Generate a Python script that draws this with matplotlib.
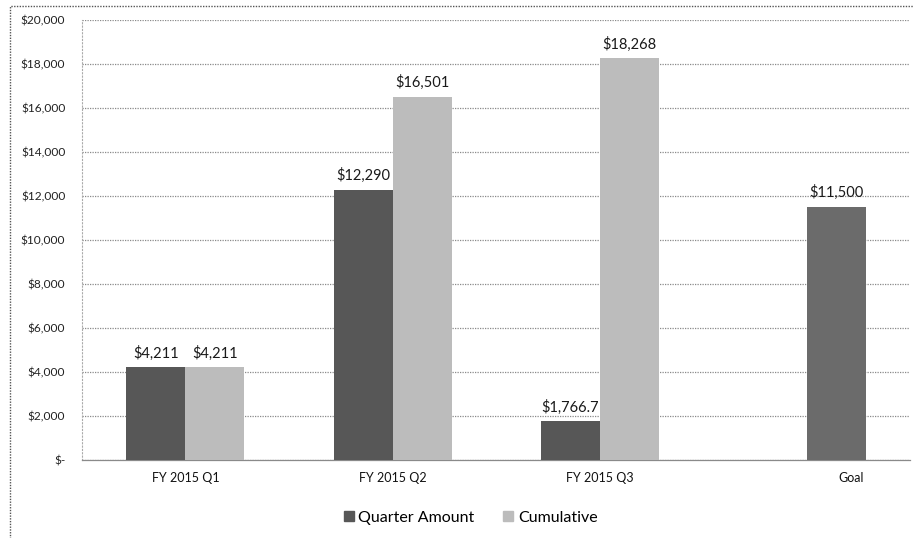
import matplotlib
matplotlib.use("Agg")
import matplotlib.pyplot as plt
from matplotlib.patches import Rectangle
import matplotlib.transforms as mtransforms
import numpy as np

categories = ["FY 2015 Q1", "FY 2015 Q2", "FY 2015 Q3", "Goal"]
quarter_amount = [4211, 12290, 1766.7, np.nan]
cumulative = [4211, 16501, 18268, 11500]
quarter_labels = ["$4,211", "$12,290", "$1,766.7", ""]
cumulative_labels = ["$4,211", "$16,501", "$18,268", "$11,500"]
yticks = [0, 2000, 4000, 6000, 8000, 10000, 12000, 14000, 16000, 18000, 20000]
ytick_labels = ["$-", "$2,000", "$4,000", "$6,000", "$8,000", "$10,000", "$12,000",
                "$14,000", "$16,000", "$18,000", "$20,000"]

plt.rcParams['font.family'] = ['Lato', 'DejaVu Sans']

fig = plt.figure(figsize=(9.14, 5.38), dpi=100)
ax = fig.add_axes([0.0897, 0.145, 0.906, 0.818])

dark = "#575757"
light = "#bcbcbc"
goal_col = "#6b6b6b"

x = np.arange(len(categories))
w = 0.285
b1 = ax.bar(x - w / 2, quarter_amount, w, color=dark, label="Quarter Amount", zorder=3)
colors2 = [light, light, light, goal_col]
b2 = ax.bar(x + w / 2, cumulative, w, color=colors2, label="Cumulative", zorder=3)

for rect, lab in zip(b1, quarter_labels):
    h = rect.get_height()
    if lab and not np.isnan(h):
        ax.text(rect.get_x() + rect.get_width() / 2, h + 300, lab, ha="center", va="bottom",
                fontsize=10.5, color="#1a1a1a", zorder=4)
for rect, lab in zip(b2, cumulative_labels):
    h = rect.get_height()
    ax.text(rect.get_x() + rect.get_width() / 2, h + 300, lab, ha="center", va="bottom",
            fontsize=10.5, color="#1a1a1a", zorder=4)

ax.set_xlim(-0.5, len(categories) - 0.5)
ax.set_ylim(0, 20000)
ax.set_yticks(yticks)
ax.set_yticklabels(ytick_labels, fontsize=8.6, color="#222222")
ax.set_xticks(x)
ax.set_xticklabels(categories, fontsize=9, color="#111111")
ax.tick_params(axis="both", length=0)
ax.tick_params(axis="y", pad=12)
ax.tick_params(axis="x", pad=9)

# the "Goal" label sits right of its category centre in the reference
goal_lbl = ax.get_xticklabels()[-1]
goal_lbl.set_transform(goal_lbl.get_transform() +
                       mtransforms.ScaledTranslation(0.45, 0, fig.dpi_scale_trans))

ax.yaxis.grid(True, color="#8a8a8a", linestyle=(0, (1, 1)), linewidth=0.9, zorder=0)
for s in ["top", "right"]:
    ax.spines[s].set_visible(False)
ax.spines["left"].set_color("#aaaaaa")
ax.spines["left"].set_linestyle((0, (1, 2)))
ax.spines["left"].set_linewidth(0.8)
ax.spines["bottom"].set_color("#8a8a8a")
ax.spines["bottom"].set_linestyle((0, (1, 1)))
ax.spines["bottom"].set_linewidth(0.9)

handles = [Rectangle((0, 0), 1, 1, color=dark), Rectangle((0, 0), 1, 1, color=light)]
fig.legend(handles, ["Quarter Amount", "Cumulative"], loc="center", bbox_to_anchor=(0.515, 0.038),
           ncol=2, frameon=False, fontsize=11.5, handlelength=0.6, handleheight=0.6,
           handletextpad=0.3, columnspacing=1.8)

border = Rectangle((0.011, -0.01), 1.1, 0.998, transform=fig.transFigure, fill=False,
                   edgecolor="#555555", linestyle=(0, (1, 1)), linewidth=1.0)
fig.patches.append(border)

fig.savefig("out.png", dpi=100)
